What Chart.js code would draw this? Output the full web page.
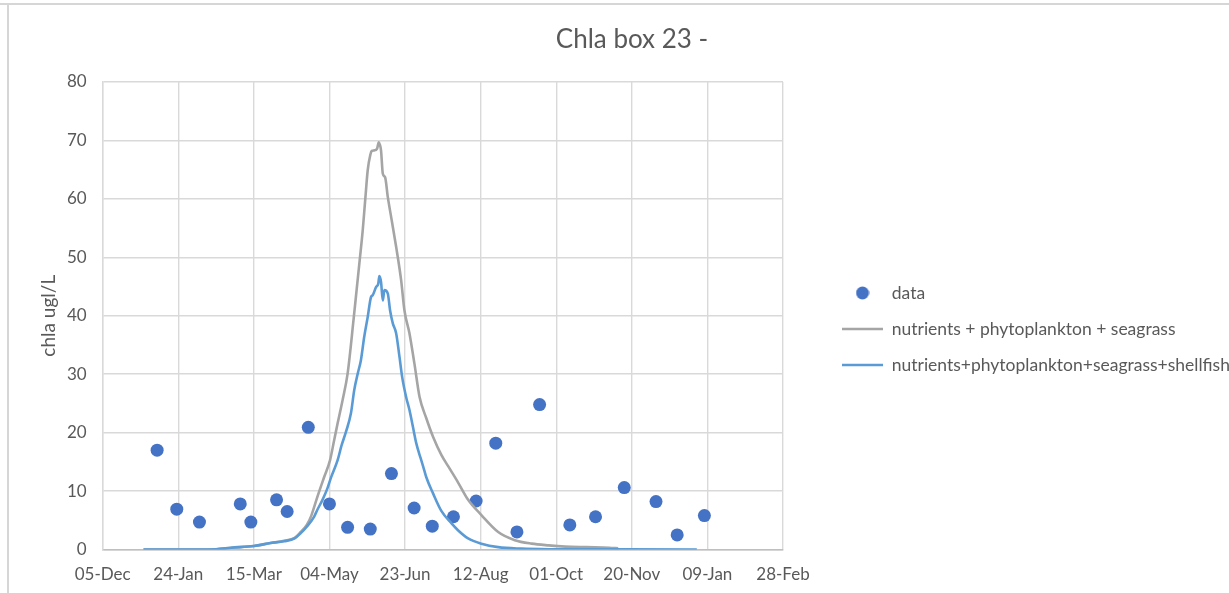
<!DOCTYPE html>
<html>
<head>
<meta charset="utf-8">
<script src="https://cdn.jsdelivr.net/npm/chart.js@4.4.1/dist/chart.umd.min.js"></script>
<style>
  html, body { margin: 0; padding: 0; background: #ffffff; }
  #wrap { position: relative; width: 1229px; height: 593px; overflow: hidden; }
  .edge-top { position: absolute; left: 0; top: 3px; width: 1229px; height: 2px; background: #d6d6d6; }
  .edge-left { position: absolute; left: 7px; top: 3px; width: 2px; height: 590px; background: #d6d6d6; }
  canvas { position: absolute; left: 0; top: 0; }
</style>
</head>
<body>
<div id="wrap">
  <div class="edge-top"></div>
  <div class="edge-left"></div>
  <canvas id="chart" width="1229" height="593"></canvas>
</div>
<script>
// x axis: days counted from 05-Dec, one tick label every 50 days
const xTickLabels = ['05-Dec', '24-Jan', '15-Mar', '04-May', '23-Jun', '12-Aug', '01-Oct', '20-Nov', '09-Jan', '28-Feb'];
const yTicks = [0, 10, 20, 30, 40, 50, 60, 70, 80];

// observed chlorophyll samples
const sampleDays = [36, 49, 64, 91, 98, 115, 122, 136, 150, 162, 177, 191, 206, 218, 232, 247, 260, 274, 289, 309, 326, 345, 366, 380, 398];
const sampleChla = [17.0, 6.9, 4.7, 7.8, 4.7, 8.5, 6.5, 20.9, 7.8, 3.8, 3.5, 13.0, 7.1, 4.0, 5.6, 8.3, 18.2, 3.0, 24.8, 4.2, 5.6, 10.6, 8.2, 2.5, 5.8];

// model run: nutrients + phytoplankton + seagrass
const npsDays = [27, 50, 75, 85, 100, 111, 120, 127, 131, 135, 138, 142, 146.5, 150.4, 153.1, 155.4, 158.7, 162, 166, 168, 170, 172, 173.7, 175.3, 177, 178, 179.7, 181.5, 182.6, 183.3, 184.1, 185.3, 186.8, 188.6, 191.2, 194.1, 197.4, 199.6, 202.9, 206.2, 209.6, 214, 218.5, 224, 228.4, 235, 241.7, 250.5, 261.6, 272.6, 283.7, 295, 306, 320, 335, 341];
const npsChla = [0, 0, 0.05, 0.3, 0.6, 1.1, 1.5, 2.0, 3.0, 4.2, 5.8, 9.0, 12.4, 15.3, 18.7, 21.6, 25.6, 30.1, 39.5, 44.5, 49.5, 54.6, 60, 64.9, 67.5, 68.2, 68.3, 68.6, 69.7, 69.3, 68.3, 64.3, 63.7, 60.3, 56.3, 51.8, 46.1, 40.9, 37, 31.8, 26.1, 22.5, 19.3, 16.2, 14.3, 11.5, 8.5, 5.9, 3.0, 1.6, 1.0, 0.7, 0.5, 0.4, 0.3, 0.2];

// model run: nutrients + phytoplankton + seagrass + shellfish
const npssDays = [27, 50, 75, 85, 100, 111, 120, 127, 131, 135, 139.8, 142, 145.4, 148.7, 151, 155.4, 158, 161, 164.2, 166.4, 168.7, 170.8, 173, 175.3, 177.5, 178.6, 180.8, 182.3, 183, 184.1, 185.3, 186.3, 188.6, 190.1, 191.9, 194.1, 196.3, 198.1, 200.7, 203, 205.2, 207.4, 209.6, 210.7, 212, 214, 218.5, 224, 230.6, 235, 241.7, 250.5, 261.6, 277, 295, 330, 393];
const npssChla = [0, 0, 0.05, 0.3, 0.6, 1.1, 1.4, 1.9, 2.8, 3.9, 5.6, 6.8, 8.5, 10.5, 12.3, 15.3, 17.8, 20.2, 23.3, 27.3, 30.1, 32.4, 36.4, 39.8, 43.2, 43.5, 44.9, 45.5, 46.8, 45.8, 42.6, 44.4, 43.8, 40.9, 38.7, 37, 33, 29.5, 26.1, 23.8, 21, 18.2, 16.2, 15.3, 14.2, 12.4, 9.6, 6.6, 4.5, 3.3, 1.9, 1.0, 0.4, 0.15, 0.05, 0.02, 0];

const seriesNames = ['data', 'nutrients + phytoplankton + seagrass', 'nutrients+phytoplankton+seagrass+shellfish'];

const toPoints = (xs, ys) => xs.map((x, i) => ({ x: x, y: ys[i] }));

const FONT = 'Lato, "Liberation Sans", sans-serif';
const TEXT = '#595959';
const GRID = '#d9d9d9';
const DOT = '#4472c4';
const DOT_RADIUS = 6.5;

// legend sits in a fixed band on the right of the plot
const LEGEND_BAND = 446;
const LEGEND_X = 842;
const LEGEND_FIRST_Y = 293;
const LEGEND_SIZE = 17.5;

// round marker for the "data" legend entry (keeps it circular next to the long line samples)
const dotMark = document.createElement('canvas');
dotMark.width = 14;
dotMark.height = 14;
(() => {
  const c = dotMark.getContext('2d');
  c.fillStyle = DOT;
  c.beginPath();
  c.arc(7, 7, DOT_RADIUS, 0, Math.PI * 2);
  c.fill();
})();

const legendPlacement = {
  id: 'legendPlacement',
  beforeInit(chart) {
    const lg = chart.legend;
    const baseFit = lg.fit.bind(lg);
    lg.fit = function () { baseFit(); this.width = LEGEND_BAND; };
  },
  afterLayout(chart) {
    const lg = chart.legend;
    const pad = lg.options.labels.padding;
    const size = lg.options.labels.font.size;
    const w = lg.width, h = lg.height;
    lg.left = LEGEND_X - pad;
    lg.right = lg.left + w;
    lg.top = LEGEND_FIRST_Y - size / 2 - pad;
    lg.bottom = lg.top + h;
  }
};

new Chart(document.getElementById('chart'), {
  type: 'scatter',
  data: {
    datasets: [
      {
        label: seriesNames[0],
        data: toPoints(sampleDays, sampleChla),
        showLine: false,
        pointStyle: 'circle',
        pointRadius: DOT_RADIUS,
        backgroundColor: DOT,
        borderColor: DOT,
        borderWidth: 0,
        order: 3
      },
      {
        label: seriesNames[1],
        data: toPoints(npsDays, npsChla),
        showLine: true,
        pointStyle: 'line',
        pointRadius: 0,
        borderColor: '#a5a5a5',
        backgroundColor: '#a5a5a5',
        borderWidth: 2.6,
        cubicInterpolationMode: 'monotone',
        order: 2
      },
      {
        label: seriesNames[2],
        data: toPoints(npssDays, npssChla),
        showLine: true,
        pointStyle: 'line',
        pointRadius: 0,
        borderColor: '#5b9bd5',
        backgroundColor: '#5b9bd5',
        borderWidth: 2.6,
        cubicInterpolationMode: 'monotone',
        order: 1
      }
    ]
  },
  options: {
    responsive: false,
    animation: false,
    events: [],
    layout: { padding: { left: 35, right: 0, top: 0, bottom: 0 } },
    scales: {
      x: {
        type: 'linear',
        min: 0,
        max: 450,
        afterFit(scale) { scale.height = 43.5; },
        afterBuildTicks(scale) {
          scale.ticks = xTickLabels.map((_, i) => ({ value: i * 50 }));
        },
        ticks: {
          padding: 15,
          color: TEXT,
          font: { family: FONT, size: 17 },
          maxRotation: 0,
          autoSkip: false,
          callback: (v) => xTickLabels[Math.round(v / 50)]
        },
        grid: { color: GRID, lineWidth: 1.4, drawTicks: false },
        border: { color: '#bfbfbf', width: 1.4 }
      },
      y: {
        min: 0,
        max: 80,
        afterFit(scale) { scale.width = 67.7; },
        afterBuildTicks(scale) {
          scale.ticks = yTicks.map((v) => ({ value: v }));
        },
        ticks: {
          padding: 16,
          color: TEXT,
          font: { family: FONT, size: 17 }
        },
        grid: { color: GRID, lineWidth: 1.4, drawTicks: false },
        border: { color: GRID, width: 1.4 },
        title: {
          display: true,
          text: 'chla ugl/L',
          color: TEXT,
          font: { family: FONT, size: 19 },
          padding: { top: 2, bottom: 0 }
        }
      }
    },
    plugins: {
      title: {
        display: true,
        text: 'Chla box 23 -',
        color: TEXT,
        font: { family: FONT, size: 26, weight: 'normal' },
        padding: { top: 24, bottom: 26.8 }
      },
      legend: {
        position: 'right',
        align: 'start',
        labels: {
          usePointStyle: true,
          pointStyleWidth: 41,
          boxHeight: 9.2,
          padding: 18.5,
          color: TEXT,
          font: { family: FONT, size: LEGEND_SIZE },
          sort: (a, b) => a.datasetIndex - b.datasetIndex,
          generateLabels(chart) {
            const items = Chart.defaults.plugins.legend.labels.generateLabels(chart);
            items.forEach((it) => { if (it.datasetIndex === 0) it.pointStyle = dotMark; });
            return items;
          }
        }
      },
      tooltip: { enabled: false }
    }
  },
  plugins: [legendPlacement]
});
</script>
</body>
</html>
